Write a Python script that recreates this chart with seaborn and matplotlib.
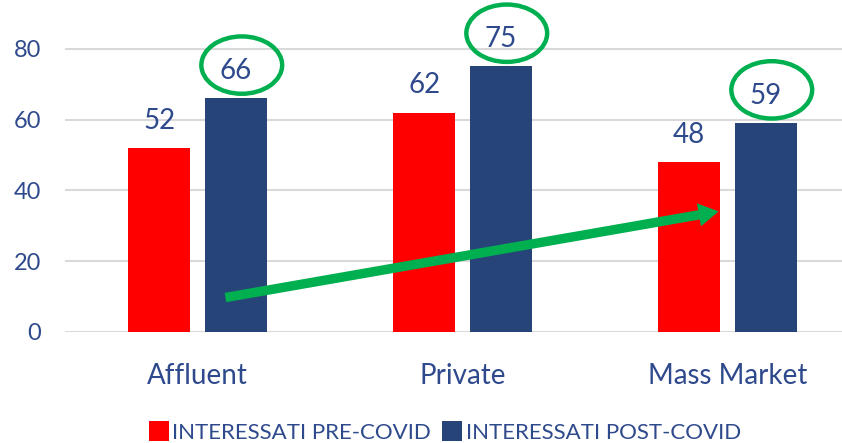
import matplotlib
matplotlib.use("Agg")
import matplotlib.pyplot as plt
import seaborn as sns
import pandas as pd
from matplotlib.patches import Ellipse, FancyArrowPatch
from matplotlib.lines import Line2D

categories = ["Affluent", "Private", "Mass Market"]
series_names = ["INTERESSATI PRE-COVID", "INTERESSATI POST-COVID"]
pre_covid = [52, 62, 48]
post_covid = [66, 75, 59]
y_ticks = [0, 20, 40, 60, 80]

RED = "#FF0000"
BLUE = "#264478"
TXT = "#2F4A8C"
GREEN = "#00B050"

df = pd.DataFrame({
    "cat": categories * 2,
    "series": [series_names[0]] * 3 + [series_names[1]] * 3,
    "val": pre_covid + post_covid,
})

sns.set_theme(style="white")
plt.rcParams["font.family"] = ["Lato", "DejaVu Sans"]

fig = plt.figure(figsize=(8.42, 4.43), dpi=100)
ax = fig.add_axes([65/842, 111/443, 795/842, 318.6/443])

sns.barplot(data=df, x="cat", y="val", hue="series", order=categories,
            hue_order=series_names, palette=[RED, BLUE], width=0.58, gap=0.2,
            saturation=1, ax=ax, legend=False, linewidth=0)

ax.set_ylim(0, 90)
ax.set_xlim(-0.5, 2.5)
ax.set_yticks(y_ticks)
ax.yaxis.grid(True, color="#D9D9D9", linewidth=1.5)
ax.set_axisbelow(True)
for s in ax.spines.values():
    s.set_visible(False)
ax.set_xlabel("")
ax.set_ylabel("")
ax.tick_params(axis="y", length=0, pad=17, labelsize=17, labelcolor=TXT)
ax.tick_params(axis="x", length=0, pad=22, labelsize=20, labelcolor=TXT)

# data labels
for cont, vals in zip(ax.containers, [pre_covid, post_covid]):
    for bar, v in zip(cont, vals):
        cx = bar.get_x() + bar.get_width() / 2
        ax.text(cx, v + 4.0, f"{v}", ha="center", va="bottom", fontsize=20,
                color=TXT, clip_on=False)

# green ellipses around post-covid labels
for bar, v in zip(ax.containers[1], post_covid):
    cx = bar.get_x() + bar.get_width() / 2
    e = Ellipse((cx + 0.022, v + 9.4), width=0.305, height=16.2, fill=False,
                edgecolor=GREEN, linewidth=3.2, clip_on=False)
    ax.add_patch(e)

# green arrow
arr = FancyArrowPatch((0.095, 9.6), (1.977, 34.2),
                      arrowstyle="simple,head_length=1.8,head_width=2.1,tail_width=0.85",
                      mutation_scale=8, color=GREEN, linewidth=0, clip_on=False)
ax.add_patch(arr)

handles = [Line2D([], [], marker="s", linestyle="", markersize=14,
                  markerfacecolor=c, markeredgewidth=0) for c in [RED, BLUE]]
fig.legend(handles, series_names, loc="center", bbox_to_anchor=(445/842, 1 - 433/443),
           ncol=2, frameon=False, fontsize=16, labelcolor=TXT,
           handletextpad=0.15, columnspacing=0.5, handlelength=0.9)

fig.savefig("out.png", dpi=100)
